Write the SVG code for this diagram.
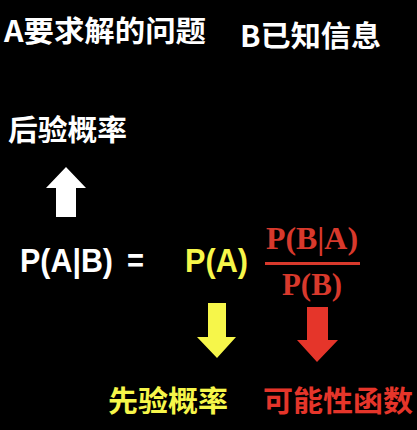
<svg xmlns="http://www.w3.org/2000/svg" width="417" height="430" viewBox="0 0 417 430">
<style>
.cjk{font-family:"Noto Sans CJK SC","Noto Sans",sans-serif;font-weight:bold;font-size:29px}
.sans{font-family:"Liberation Sans",Arial,sans-serif;font-weight:bold;font-size:33px}
.serif{font-family:"Liberation Serif","Times New Roman",serif;font-weight:bold;font-size:32px}
.w{fill:#ffffff}.y{fill:#f6f64a}.r{fill:#e5352a}.r2{fill:#d8392c}
</style>
<rect width="417" height="430" fill="#000000"/>
<g id="title-a"><text class="cjk w" x="4" y="42" textLength="202" lengthAdjust="spacingAndGlyphs">A要求解的问题</text></g>
<g id="title-b"><text class="cjk w" x="240" y="47" textLength="141" lengthAdjust="spacingAndGlyphs">B已知信息</text></g>
<g id="posterior"><text class="cjk w" x="8" y="141" textLength="119" lengthAdjust="spacingAndGlyphs">后验概率</text></g>
<g id="formula">
<text class="sans w" x="20" y="272" textLength="93" lengthAdjust="spacingAndGlyphs">P(A|B)</text>
<text class="sans w" x="127" y="272" textLength="17" lengthAdjust="spacingAndGlyphs">=</text>
<text class="sans y" x="185" y="272" textLength="63" lengthAdjust="spacingAndGlyphs">P(A)</text>
<text class="serif r2" x="266" y="249" textLength="92" lengthAdjust="spacingAndGlyphs">P(B|A)</text>
<rect class="r2" x="265" y="262" width="95" height="3"/>
<text class="serif r2" x="282" y="295" textLength="60" lengthAdjust="spacingAndGlyphs">P(B)</text>
</g>
<g id="connectors">
<polygon class="w" points="66,167 86,188 76,188 76,217 56,217 56,188 46,188"/>
<polygon class="y" points="208,303 226,303 226,337 236,337 217,358 197,337 208,337"/>
<polygon class="r" points="307,307 328,307 328,340 338,340 317,362 297,340 307,340"/>
</g>
<g id="prior"><text class="cjk y" x="108" y="412" textLength="120" lengthAdjust="spacingAndGlyphs">先验概率</text></g>
<g id="likelihood"><text class="cjk r" x="263" y="412" textLength="150" lengthAdjust="spacingAndGlyphs">可能性函数</text></g>
</svg>
